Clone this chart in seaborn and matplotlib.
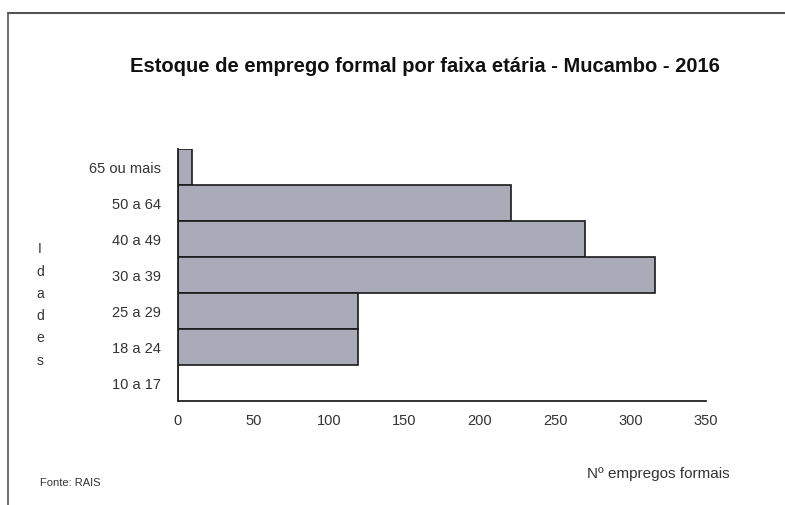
import matplotlib
matplotlib.use('Agg')
import matplotlib.pyplot as plt
import seaborn as sns
import pandas as pd

# Data
faixas = ['65 ou mais', '50 a 64', '40 a 49', '30 a 39', '25 a 29', '18 a 24', '10 a 17']
empregos = [9, 221, 270, 316, 119, 119, 0]
x_ticks = [0, 50, 100, 150, 200, 250, 300, 350]

df = pd.DataFrame({'faixa': faixas, 'empregos': empregos})

sns.set_style('white')
plt.rcParams['font.family'] = ['Liberation Sans', 'DejaVu Sans']

fig = plt.figure(figsize=(7.85, 5.06), dpi=100)
ax = fig.add_axes([178 / 785, 1 - 402 / 506, (706 - 178) / 785, (402 - 150) / 506])

sns.barplot(data=df, x='empregos', y='faixa', order=faixas, orient='h',
            color='#a9abb9', saturation=1, width=1, edgecolor='#1a1a1a',
            linewidth=1.2, ax=ax)

ax.set_xlim(0, 350)
ax.set_ylim(len(faixas) - 0.5, -0.5)
ax.set_xticks(x_ticks)
ax.set_xticklabels([str(t) for t in x_ticks], fontsize=10.5, color='#333333')
ax.tick_params(axis='y', labelsize=10.5, labelcolor='#333333', length=0, pad=12)
ax.tick_params(axis='x', direction='in', length=4, width=1, color='#222222', pad=9)
ax.set_yticks(range(len(faixas)))
ax.set_yticks([i + 0.5 for i in range(-1, len(faixas))], minor=True)
ax.tick_params(axis='y', which='minor', length=4, width=1.2, color='#222222', direction='out')
ax.set_xlabel('')
ax.set_ylabel('')
sns.despine(ax=ax, top=True, right=True)
for s in ['left', 'bottom']:
    ax.spines[s].set_color('#222222')
    ax.spines[s].set_linewidth(1.3)

fig.text(425 / 785, 1 - 67 / 506, 'Estoque de emprego formal por faixa etária - Mucambo - 2016',
         ha='center', va='center', fontsize=14.5, fontweight='bold', color='#111111')

fig.text(40 / 785, 1 - 305 / 506, 'I\nd\na\nd\ne\ns', ha='center', va='center',
         fontsize=10, linespacing=1.75, color='#333333')
fig.text(40 / 785, 1 - 483 / 506, 'Fonte: RAIS', ha='left', va='center', fontsize=8, color='#333333')
fig.text(587 / 785, 1 - 474 / 506, 'Nº empregos formais', ha='left', va='center', fontsize=11, color='#333333')

# outer frame (top and left edges visible)
fig.add_artist(plt.Line2D([8 / 785, 1], [1 - 14 / 506, 1 - 14 / 506], transform=fig.transFigure,
                          color='#555555', linewidth=1.5))
fig.add_artist(plt.Line2D([8 / 785, 8 / 785], [0, 1 - 14 / 506], transform=fig.transFigure,
                          color='#555555', linewidth=1.2))

fig.savefig('out.png', dpi=100)
